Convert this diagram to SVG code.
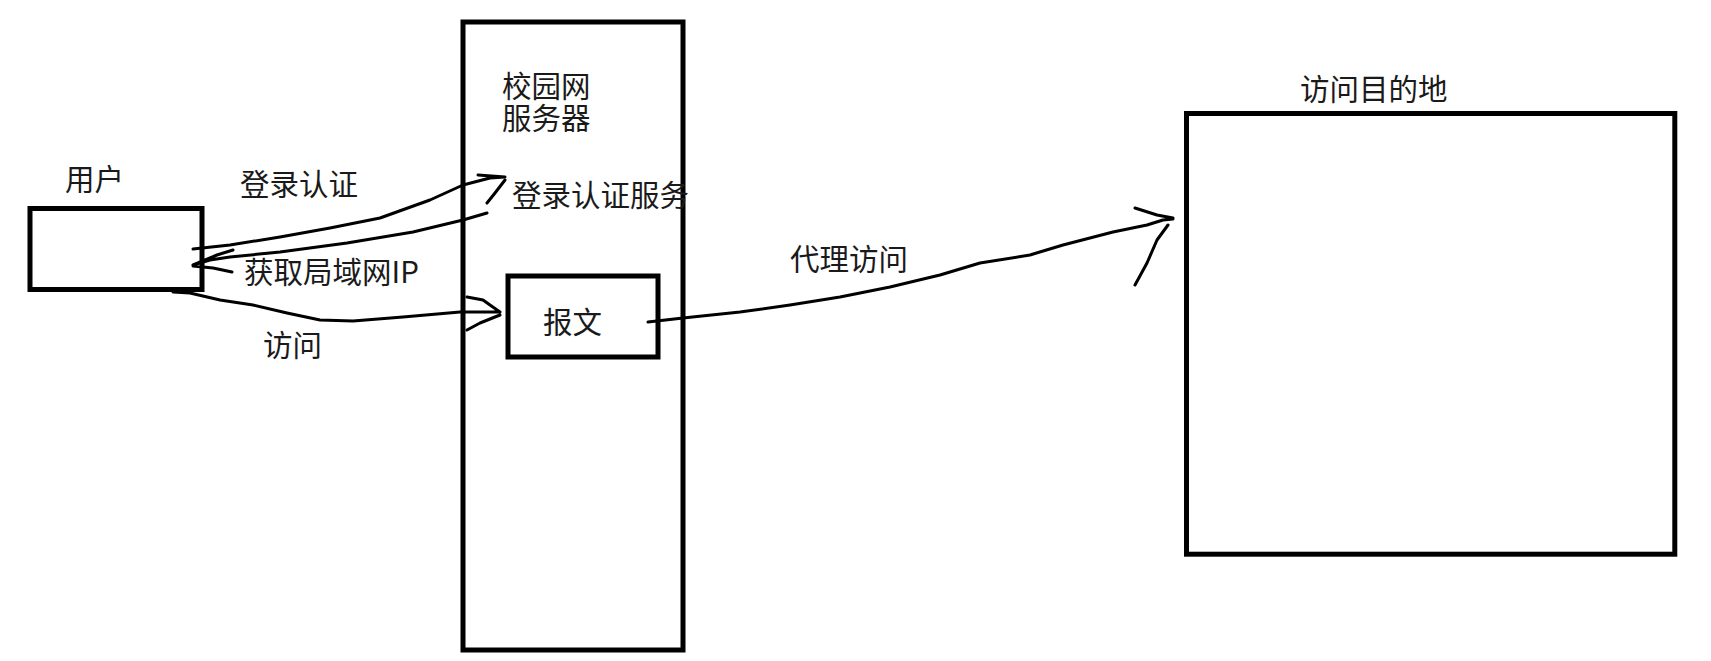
<svg xmlns="http://www.w3.org/2000/svg" width="1711" height="661" viewBox="0 0 1711 661">
<style>
.box{fill:none;stroke:#000;stroke-width:5}
.t{font-family:"Noto Sans CJK SC","Noto Sans",sans-serif;font-size:29.5px;fill:#1a1a1a}
.ln{fill:none;stroke:#000;stroke-width:3;stroke-linejoin:round;stroke-linecap:round}
</style>
<rect width="1711" height="661" fill="#fff"/>
<g id="user">
<rect class="box" x="30" y="208.5" width="172" height="81"/>
<text class="t" x="65" y="190">用户</text>
</g>
<g id="server">
<rect class="box" x="463" y="22" width="220" height="628"/>
<text class="t" x="502" y="97">校园网<tspan x="502" y="129">服务器</tspan></text>
<text class="t" x="512" y="206">登录认证服务</text>
</g>
<g id="packet">
<rect class="box" x="508" y="276" width="150" height="81"/>
<text class="t" x="543" y="333">报文</text>
</g>
<g id="destination">
<rect class="box" x="1186.5" y="113.5" width="488.3" height="440.7"/>
<text class="t" x="1300" y="100">访问目的地</text>
</g>
<g id="connectors">
<path class="ln" d="M193,249 L230,245 L280,237 L330,228 L380,218 L430,200 L463,185 L490,178 L505,177 M478,175 L505,177 M505,180 L495,193 L487,203"/>
<text class="t" x="240" y="195">登录认证</text>
<path class="ln" d="M487,213 L463,220 L413,232 L347,243 L280,252 L230,257 L210,260 L193,265 M193,265 L217,255 L233,250 M193,266 L213,268 L232,272"/>
<text class="t" x="244" y="283">获取局域网IP</text>
<path class="ln" d="M173,292 L190,293 L220,300 L253,305 L287,313 L320,320 L353,321 L403,317 L460,312 L500,312 M467,297 L483,300 L490,305 L500,312 M500,315 L480,323 L467,330"/>
<text class="t" x="263" y="356">访问</text>
<path class="ln" d="M648,322 L683,318 L740,312 L790,305 L840,297 L890,287 L940,275 L980,263 L1030,255 L1063,245 L1113,232 L1147,225 L1163,220 L1173,219 M1135,208 L1157,215 L1173,218 M1168,225 L1157,240 L1147,263 L1135,285"/>
<text class="t" x="790" y="270">代理访问</text>
</g>
</svg>
